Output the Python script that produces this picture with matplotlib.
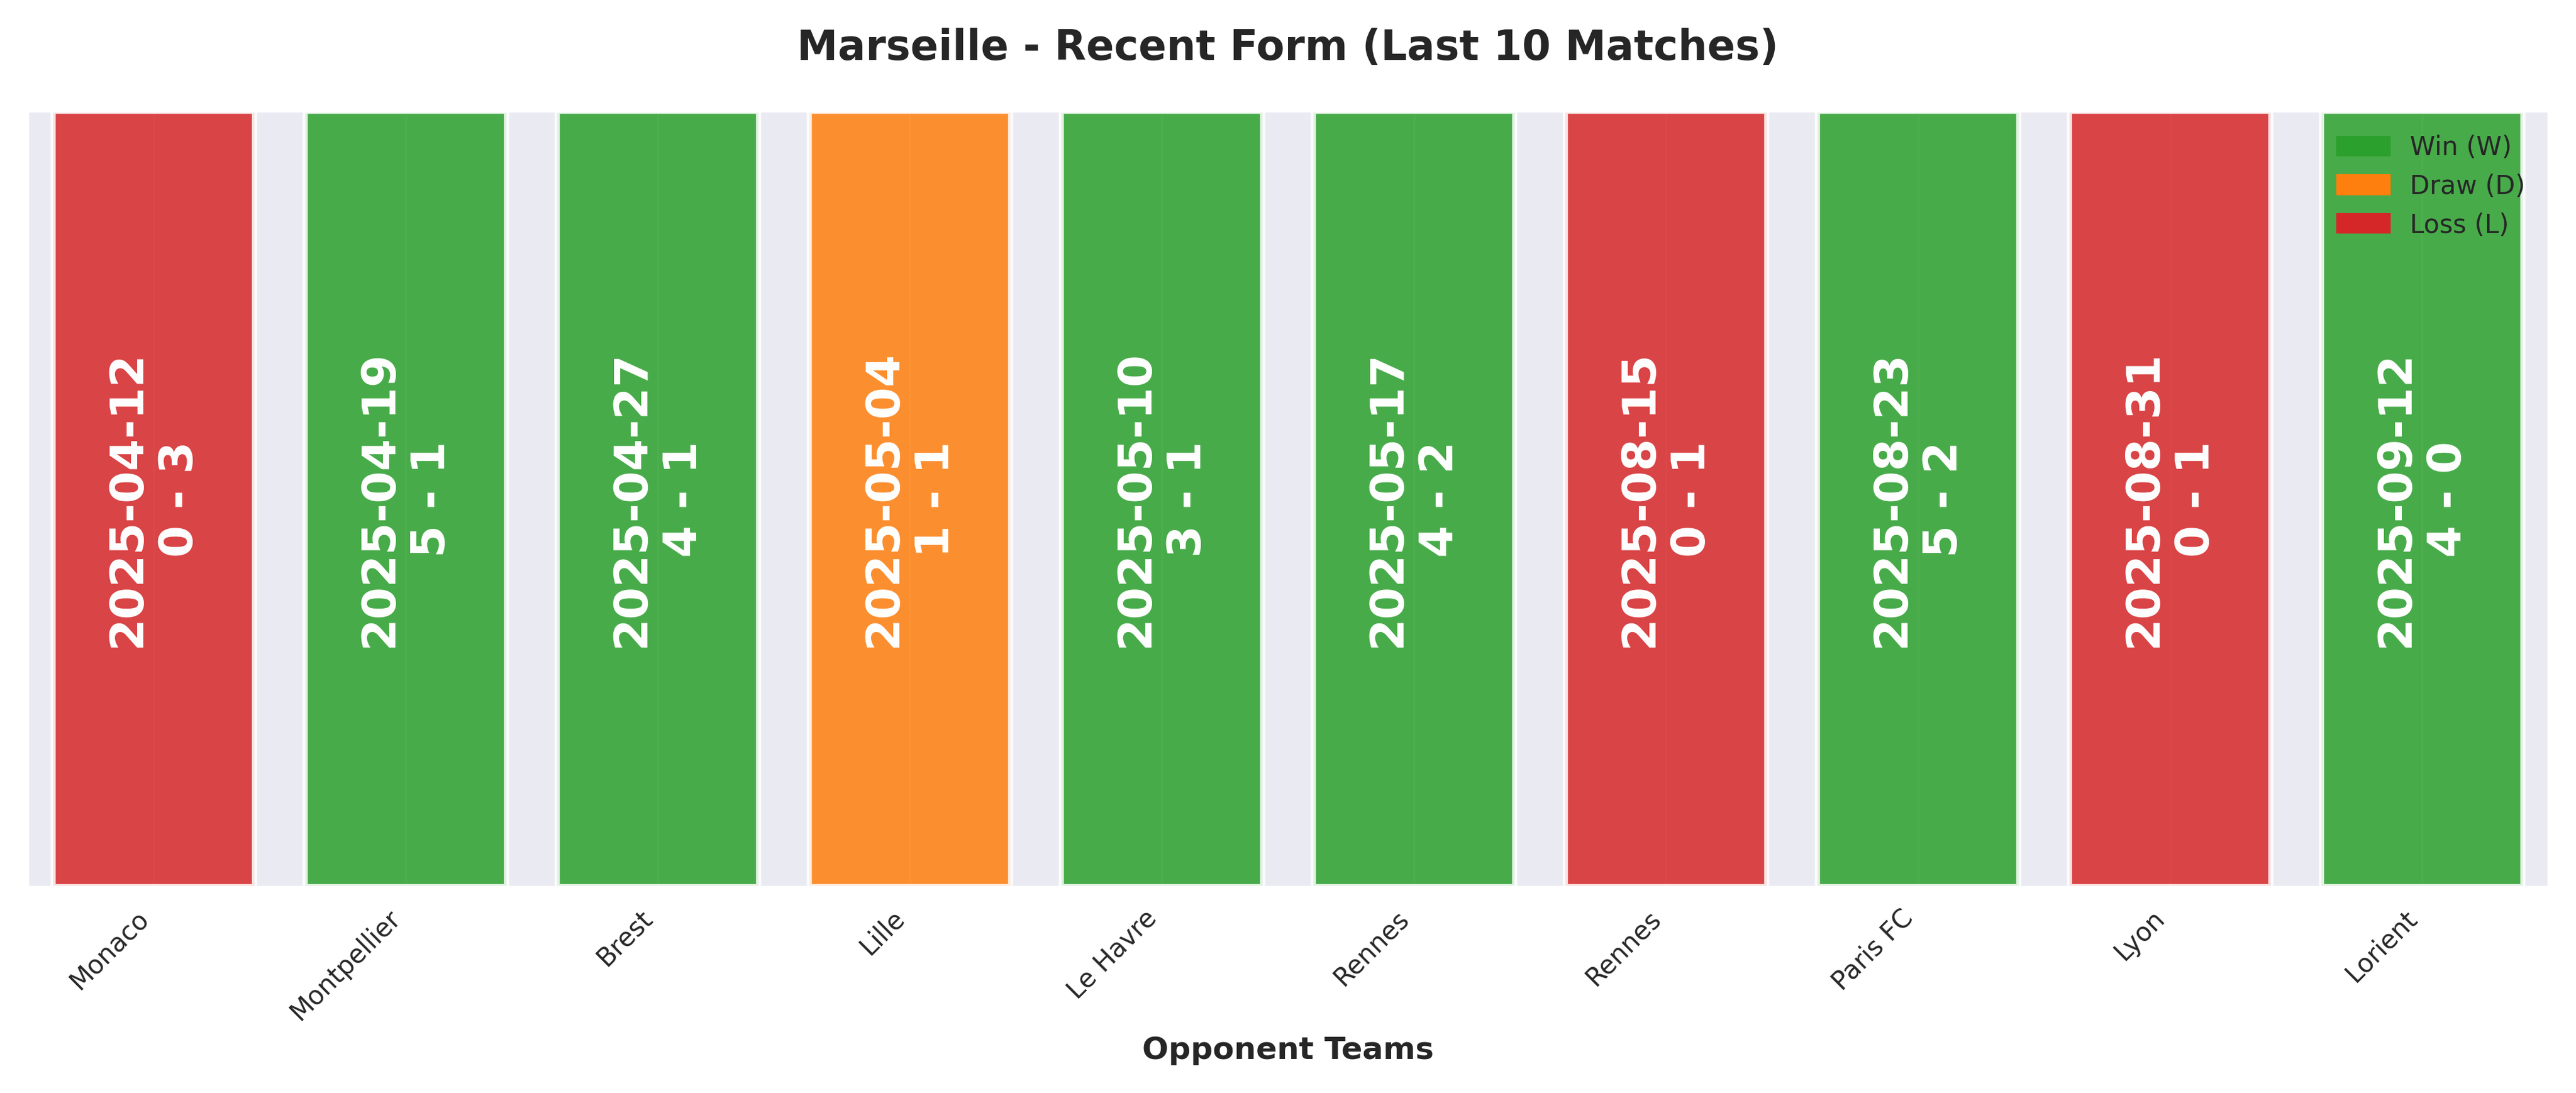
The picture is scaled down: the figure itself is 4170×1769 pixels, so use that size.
import matplotlib
matplotlib.use("Agg")
import matplotlib.pyplot as plt
import seaborn as sns
from matplotlib.patches import Patch

sns.set_style("darkgrid")
plt.rcParams['font.family'] = ['DejaVu Sans']

opponents = ["Monaco", "Montpellier", "Brest", "Lille", "Le Havre", "Rennes", "Rennes", "Paris FC", "Lyon", "Lorient"]
dates = ["2025-04-12", "2025-04-19", "2025-04-27", "2025-05-04", "2025-05-10", "2025-05-17", "2025-08-15", "2025-08-23", "2025-08-31", "2025-09-12"]
scores = ["0 - 3", "5 - 1", "4 - 1", "1 - 1", "3 - 1", "4 - 2", "0 - 1", "5 - 2", "0 - 1", "4 - 0"]
results = ["L", "W", "W", "D", "W", "W", "L", "W", "L", "W"]
colors = {"W": "#2ca02c", "D": "#ff7f0e", "L": "#d62728"}

fig, ax = plt.subplots(figsize=(13.9, 5.897), dpi=300)
x = list(range(len(opponents)))
ax.bar(x, [1]*len(x), width=0.8, color=[colors[r] for r in results], alpha=0.85,
       edgecolor="white", linewidth=2)
for i in x:
    ax.text(i, 0.5, f"{dates[i]}\n{scores[i]}", rotation=90, ha="center", va="center",
            color="white", fontsize=18, fontweight="bold")
ax.set_xticks(x)
ax.set_xticklabels(opponents, rotation=45, ha="right", fontsize=10)
ax.set_yticks([])
ax.set_ylim(0, 1)
ax.set_xlim(-0.5, 9.5)
ax.set_xlabel("Opponent Teams", fontsize=12, fontweight="bold")
ax.set_title("Marseille - Recent Form (Last 10 Matches)", fontsize=16, fontweight="bold", pad=20)
handles = [Patch(color=colors["W"], label="Win (W)"), Patch(color=colors["D"], label="Draw (D)"),
           Patch(color=colors["L"], label="Loss (L)")]
ax.legend(handles=handles, loc="upper right", fontsize=10, frameon=False)
plt.tight_layout()
plt.savefig("out.png", dpi=300)
